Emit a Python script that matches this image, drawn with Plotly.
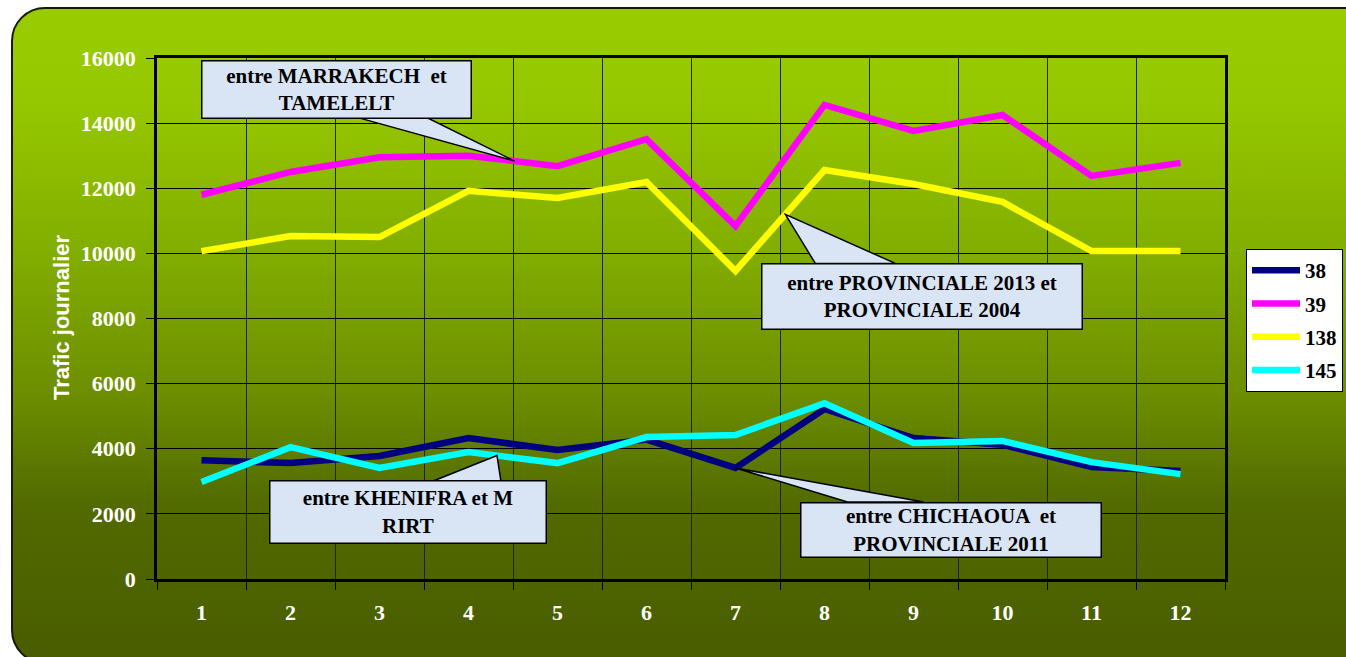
import base64
import numpy as np
import plotly.graph_objects as go

# Monthly daily traffic per road
months = list(range(1, 13))
month_labels = [str(m) for m in months]
route_38 = [3650, 3560, 3780, 4330, 3960, 4280, 3410, 5220, 4330, 4120, 3440, 3320]
route_39 = [11800, 12500, 12950, 13000, 12680, 13510, 10840, 14560, 13760, 14250, 12380, 12780]
route_138 = [10070, 10530, 10500, 11920, 11700, 12190, 9460, 12560, 12130, 11580, 10070, 10070]
route_145 = [2980, 4050, 3410, 3900, 3560, 4360, 4420, 5400, 4180, 4240, 3590, 3220]
y_ticks = [0, 2000, 4000, 6000, 8000, 10000, 12000, 14000, 16000]
y_labels = [str(v) for v in y_ticks]

series = [
    ("38", route_38, "#000080"),
    ("39", route_39, "#ff00ff"),
    ("138", route_138, "#ffff00"),
    ("145", route_145, "#00ffff"),
]

W, H = 1346, 657
ML, MR, MT, MB = 157, 121, 58, 78
PW, PH = W - ML - MR, H - MT - MB


def px_to_paper(px, py):
    return (px - ML) / PW, (H - MB - py) / PH


fig = go.Figure()
for name, vals, color in series:
    fig.add_trace(go.Scatter(
        x=months, y=vals, name=name, mode="lines",
        line=dict(color=color, width=6.5),
        legendgroup=name,
    ))

# Rounded frame with a vertical green gradient behind everything
fx0, fy0, fx1, fy1 = 11, 7, 1390, 664
fw, fh = fx1 - fx0, fy1 - fy0
svg = (
    f'<svg xmlns="http://www.w3.org/2000/svg" width="{fw}" height="{fh}" '
    f'viewBox="0 0 {fw} {fh}" preserveAspectRatio="none">'
    '<defs><linearGradient id="g" x1="0" y1="0" x2="0" y2="1">'
    '<stop offset="0" stop-color="#99cc00"/>'
    '<stop offset="0.14" stop-color="#96c800"/>'
    '<stop offset="0.37" stop-color="#82ae00"/>'
    '<stop offset="0.60" stop-color="#6b8c00"/>'
    '<stop offset="0.76" stop-color="#526a00"/>'
    '<stop offset="1" stop-color="#495c00"/>'
    '</linearGradient></defs>'
    f'<rect x="1" y="1" width="{fw - 2}" height="{fh - 2}" rx="33" ry="33" '
    'fill="url(#g)" stroke="#1a1a00" stroke-width="2"/></svg>'
)
src = "data:image/svg+xml;base64," + base64.b64encode(svg.encode()).decode()
ix, iy = px_to_paper(fx0, fy0)
fig.add_layout_image(dict(
    source=src, xref="paper", yref="paper", x=ix, y=iy,
    sizex=fw / PW, sizey=fh / PH, xanchor="left", yanchor="top",
    sizing="stretch", layer="below",
))

# Callouts: (text, tip x, series values, box centre offset, box size, wedge base offsets)
callouts = [
    ("entre MARRAKECH  et<br>TAMELELT", 4.52, route_39, (-178, -72), (262, 50), (-155, -87, 43)),
    ("entre PROVINCIALE 2013 et<br>PROVINCIALE 2004", 7.56, route_138, (137, 82), (313, 58), (30, 110, -49)),
    ("entre KHENIFRA et M<br>RIRT", 4.32, route_145, (-89, 56), (269, 55), (-65, 4, -26)),
    ("entre CHICHAOUA  et<br>PROVINCIALE 2011", 7.0, route_38, (215, 62), (293, 47), (112, 188, -34)),
]
box_fill = "#d9e4f5"
for text, tx, vals, (ax, ay), (bw, bh), (b0, b1, by) in callouts:
    ty = float(np.interp(tx, months, vals))
    fig.add_shape(
        type="path", xref="x", yref="y", xsizemode="pixel", ysizemode="pixel",
        xanchor=tx, yanchor=ty,
        path=f"M 0,0 L {b0},{by} L {b1},{by} Z",
        fillcolor=box_fill, line=dict(color="black", width=1.5),
    )
    fig.add_annotation(
        x=tx, y=ty, ax=ax, ay=ay, text=text, showarrow=True,
        arrowhead=0, arrowwidth=0.1, arrowcolor="rgba(0,0,0,0)",
        width=bw, height=bh, bgcolor=box_fill, bordercolor="black",
        borderwidth=1.5, borderpad=3,
        font=dict(family="Liberation Serif", size=21, color="black", weight="bold"),
    )

# Axis title
tx_, ty_ = px_to_paper(61, 318)
fig.add_annotation(
    x=tx_, y=ty_, xref="paper", yref="paper", text="Trafic journalier",
    xanchor="center", yanchor="middle",
    textangle=-90, showarrow=False,
    font=dict(family="Liberation Sans", size=22, color="white", weight="bold"),
)

lx, ly = px_to_paper(1246, 249)
tick_font = dict(family="Liberation Serif", size=22, color="white", weight="bold")
fig.update_layout(
    width=W, height=H,
    margin=dict(l=ML, r=MR, t=MT, b=MB, pad=0, autoexpand=False),
    paper_bgcolor="white",
    plot_bgcolor="#ccffcc",
    showlegend=True,
    legend=dict(
        x=lx, y=ly, xanchor="left", yanchor="top",
        bgcolor="white", bordercolor="black", borderwidth=1,
        font=dict(family="Liberation Serif", size=21, color="black", weight="bold"),
        itemwidth=48, tracegroupgap=3, traceorder="grouped",
    ),
    xaxis=dict(
        range=[0.5, 12.5], tickmode="array", tickvals=months, ticktext=month_labels,
        showgrid=False, ticks="", ticklabelstandoff=12, tickfont=tick_font,
        showline=True, linecolor="black", linewidth=2.5, mirror=True,
        minor=dict(tick0=0.5, dtick=1, showgrid=True, gridcolor="#222222",
                   gridwidth=1, ticks="outside", ticklen=8, tickcolor="black"),
        zeroline=False, fixedrange=True,
    ),
    yaxis=dict(
        range=[0, 16000], tickmode="array", tickvals=y_ticks, ticktext=y_labels,
        showgrid=True, gridcolor="black", gridwidth=1,
        ticks="outside", ticklen=8, tickcolor="black", tickfont=tick_font,
        ticklabelstandoff=6,
        showline=True, linecolor="black", linewidth=2.5, mirror=True,
        zeroline=False, fixedrange=True,
    ),
)

fig.write_html("out.html")
